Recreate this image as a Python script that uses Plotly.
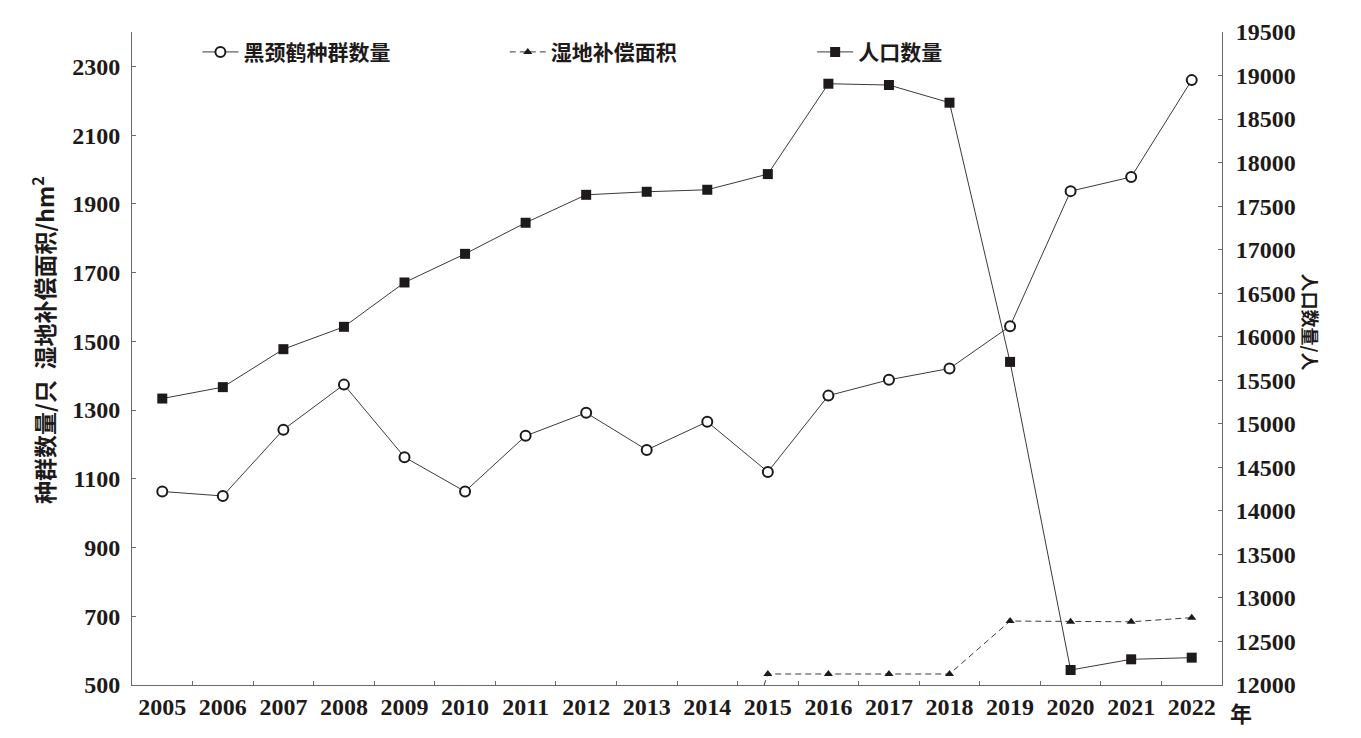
import plotly.graph_objects as go

years = [str(y) for y in range(2005, 2023)]
crane = [1063, 1050, 1243, 1374, 1163, 1063, 1225, 1292, 1184, 1266,
         1120, 1342, 1388, 1421, 1544, 1937, 1978, 2260]
wetland = [None, None, None, None, None, None, None, None, None, 0,
           532, 532, 532, 532, 686, 684, 684, 696]
population = [15290, 15421, 15857, 16114, 16623, 16952, 17309, 17630, 17665, 17688,
               17868, 18906, 18891, 18688, 15711, 12172, 12295, 12314]

left_ticks = list(range(500, 2301, 200))
right_ticks = list(range(12000, 19501, 500))

INK = "#1e1a1a"
AX = "#6a6a6a"
CJK = "Noto Sans CJK SC"
NUM = "Liberation Serif"

fig = go.Figure()
fig.add_trace(go.Scatter(
    x=years, y=crane, name="黑颈鹤种群数量", mode="lines+markers",
    line=dict(color="#3a3a3a", width=1),
    marker=dict(symbol="circle", size=10, color="white",
                line=dict(color=INK, width=2)),
    legend="legend"))
fig.add_trace(go.Scatter(
    x=years, y=wetland, name="湿地补偿面积", mode="lines+markers",
    line=dict(color="#3a3a3a", width=1, dash="6px,4px"),
    marker=dict(symbol="triangle-up", size=8, color=INK),
    connectgaps=False, legend="legend2"))
fig.add_trace(go.Scatter(
    x=years, y=population, name="人口数量", mode="lines+markers",
    line=dict(color="#3a3a3a", width=1),
    marker=dict(symbol="square", size=10, color=INK),
    yaxis="y2", legend="legend3"))

legend_common = dict(orientation="h", yanchor="middle", y=0.969, xanchor="left",
                     bgcolor="rgba(0,0,0,0)", itemwidth=36,
                     font=dict(family=CJK, size=21, color=INK, weight="bold"))

# page body adds an 8px offset; size the figure so the plot area lands where the reference has it
fig.update_layout(
    width=1353, height=730,
    margin=dict(l=124, r=139, t=24, b=53, autoexpand=False),
    paper_bgcolor="white", plot_bgcolor="white",
    showlegend=True,
    legend=dict(x=0.060, **legend_common),
    legend2=dict(x=0.342, **legend_common),
    legend3=dict(x=0.624, **legend_common),
    xaxis=dict(type="category", categoryorder="array", categoryarray=years,
               range=[-0.5, 17.5], showline=True, linecolor=AX, linewidth=1,
               ticks="inside", tickson="boundaries", ticklen=4, tickcolor=AX,
               showgrid=False, zeroline=False, automargin=False,
               tickfont=dict(family=NUM, size=24, color=INK, weight="bold")),
    yaxis=dict(range=[500, 2400], tickvals=left_ticks, showline=True,
               linecolor=AX, linewidth=1, ticks="inside", ticklen=4, tickcolor=AX,
               showgrid=False, zeroline=False, ticklabelstandoff=6, automargin=False,
               tickfont=dict(family=NUM, size=24, color=INK, weight="bold")),
    yaxis2=dict(range=[12000, 19500], tickvals=right_ticks, tickformat="d",
                overlaying="y", side="right", showline=True, linecolor=AX,
                linewidth=1, ticks="inside", ticklen=4, tickcolor=AX,
                showgrid=False, zeroline=False, ticklabelstandoff=8,
                automargin=False,
                tickfont=dict(family=NUM, size=24, color=INK, weight="bold")),
    annotations=[
        dict(text="种群数量/只  湿地补偿面积/hm<sup>2</sup>", xref="paper", yref="paper",
             x=-0.081, y=0.528, textangle=-90, showarrow=False,
             xanchor="center", yanchor="middle",
             font=dict(family=CJK, size=23, color=INK, weight="bold")),
        dict(text="人口数量/人", xref="paper", yref="paper",
             x=1.082, y=0.556, textangle=90, showarrow=False,
             xanchor="center", yanchor="middle",
             font=dict(family=CJK, size=18, color=INK, weight="bold")),
        dict(text="年", xref="paper", yref="paper",
             x=1.0175, y=-0.0413, showarrow=False,
             xanchor="center", yanchor="middle",
             font=dict(family=CJK, size=22, color=INK, weight="bold")),
    ],
)

fig.write_html("out.html")
